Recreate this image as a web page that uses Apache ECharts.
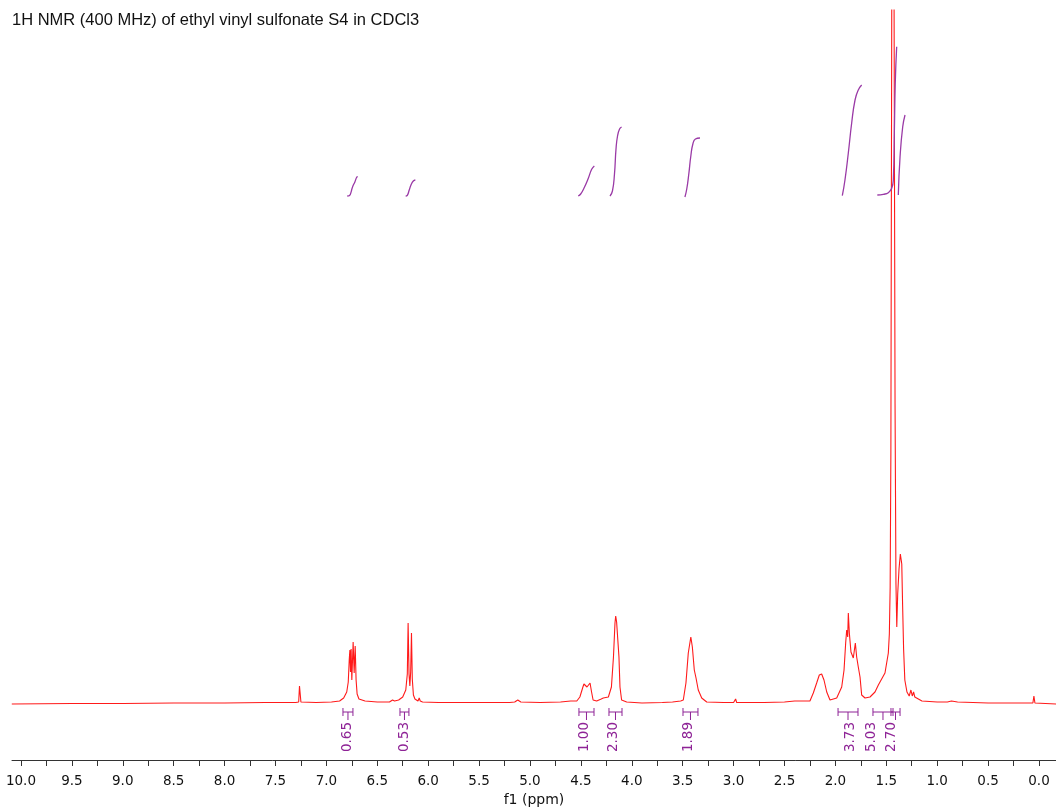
<!DOCTYPE html>
<html>
<head>
<meta charset="utf-8">
<title>1H NMR ethyl vinyl sulfonate</title>
<script src="https://cdn.jsdelivr.net/npm/echarts@6.0.0/dist/echarts.min.js"></script>
<style>
  html, body { margin: 0; padding: 0; background: #fff; }
  #chart { width: 1056px; height: 808px; }
</style>
</head>
<body>
<div id="chart"></div>
<script>
const titleText = '1H NMR (400 MHz) of ethyl vinyl sulfonate S4 in CDCl3'

// spectrum: [ppm, intensity]
const spectrum = [
  [10.09, 0], [9.5, 0.5], [9.0, 0.5], [8.5, 1], [8.0, 1], [7.6, 1.5], [7.3, 1.5],
  [7.272, 2], [7.264, 18], [7.258, 18], [7.25, 2],
  [7.1, 1.5], [6.95, 2], [6.87, 3], [6.83, 6], [6.8, 12], [6.785, 22], [6.775, 45],
  [6.769, 54], [6.763, 32], [6.757, 55], [6.75, 24], [6.737, 62], [6.727, 31],
  [6.717, 58], [6.708, 24], [6.698, 10], [6.68, 5], [6.62, 3], [6.5, 2],
  [6.38, 2], [6.35, 4], [6.33, 3], [6.29, 4], [6.25, 7], [6.22, 14], [6.205, 30],
  [6.197, 81], [6.188, 30], [6.18, 18], [6.172, 32], [6.164, 71], [6.156, 25],
  [6.145, 9], [6.13, 5], [6.1, 3], [6.088, 6], [6.078, 3], [6.066, 5], [6.055, 2],
  [5.9, 1.5], [5.5, 1.5], [5.2, 1.5], [5.15, 2], [5.12, 4], [5.09, 2], [4.9, 1.5],
  [4.7, 2], [4.6, 3],
  [4.54, 3], [4.51, 7], [4.48, 17], [4.47, 20], [4.455, 19], [4.44, 17], [4.41, 21],
  [4.395, 12], [4.38, 4], [4.345, 3], [4.3, 5], [4.28, 6], [4.23, 7], [4.2, 17],
  [4.18, 47], [4.165, 81], [4.158, 88], [4.149, 82], [4.14, 81], [4.126, 47],
  [4.116, 17], [4.1, 4], [4.05, 2], [3.9, 1], [3.7, 1.5], [3.6, 2], [3.52, 3],
  [3.494, 4], [3.468, 21], [3.445, 51], [3.42, 67], [3.405, 57], [3.386, 34],
  [3.369, 26], [3.347, 14], [3.313, 6], [3.264, 2], [3.1, 1.5], [3.0, 1.5],
  [2.98, 5], [2.97, 1.5], [2.7, 1.5], [2.5, 2], [2.4, 3], [2.3, 3],
  [2.25, 3], [2.217, 11], [2.184, 21], [2.158, 29], [2.135, 30], [2.112, 24],
  [2.085, 12], [2.053, 4], [1.987, 6], [1.938, 17], [1.915, 34], [1.899, 61],
  [1.889, 74], [1.879, 67], [1.873, 91], [1.863, 71], [1.857, 69], [1.847, 52],
  [1.834, 51], [1.824, 46], [1.804, 61], [1.791, 47], [1.775, 37], [1.758, 27],
  [1.742, 9], [1.709, 6], [1.66, 7], [1.611, 12], [1.578, 19], [1.562, 17],
  [1.513, 31], [1.48, 51], [1.47, 70], [1.462, 117], [1.455, 250], [1.446, 720],
  [1.424, 720], [1.414, 300], [1.405, 120], [1.397, 77], [1.388, 110], [1.375, 135],
  [1.362, 150], [1.356, 152], [1.348, 140], [1.34, 100], [1.33, 55], [1.318, 24],
  [1.297, 12], [1.275, 8], [1.258, 14], [1.245, 8], [1.232, 12], [1.22, 7],
  [1.15, 3], [1.0, 2], [0.9, 2], [0.86, 3], [0.8, 2], [0.5, 1], [0.1, 1],
  [0.06, 1], [0.05, 8], [0.04, 1], [-0.17, 0]
]

// integral curves [ppm, height]
const integralCurves = [
  [[6.795, 508], [6.775, 508.3], [6.742, 517.3], [6.719, 522.3], [6.702, 526.7], [6.692, 527.3]],
  [[6.221, 508], [6.205, 508.7], [6.186, 514], [6.169, 519], [6.146, 523], [6.126, 524]],
  [[4.526, 508], [4.502, 510], [4.47, 515.7], [4.427, 525.7], [4.394, 534.7], [4.368, 538]],
  [[4.214, 508], [4.19, 513], [4.17, 530], [4.155, 555], [4.14, 568], [4.12, 575], [4.1, 577]],
  [[3.478, 507], [3.46, 515], [3.44, 530], [3.42, 548], [3.4, 560], [3.375, 565], [3.33, 566]],
  [[1.932, 508.3], [1.906, 524], [1.873, 551], [1.84, 581], [1.807, 604], [1.775, 614], [1.742, 619]],
  [[1.588, 509], [1.529, 509.7], [1.48, 511.3], [1.447, 515.7], [1.431, 524], [1.421, 571], [1.412, 621], [1.398, 657.3]],
  [[1.382, 509], [1.365, 547], [1.339, 577], [1.316, 589]]
]

// integral regions: from ppm, to ppm, label ppm
const integralFrom = [6.837, 6.277, 4.519, 4.224, 3.497, 1.974, 1.631, 1.454]
const integralTo = [6.739, 6.189, 4.371, 4.096, 3.35, 1.778, 1.434, 1.365]
const integralLabelAt = [6.79, 6.23, 4.46, 4.18, 3.44, 1.85, 1.65, 1.45]
const integralValues = ['0.65', '0.53', '1.00', '2.30', '1.89', '3.73', '5.03', '2.70']

const labelTicks = [0, 0.5, 1, 1.5, 2, 2.5, 3, 3.5, 4, 4.5, 5, 5.5, 6, 6.5, 7, 7.5, 8, 8.5, 9, 9.5, 10]
const allTicks = [0, 0.25, 0.5, 0.75, 1, 1.25, 1.5, 1.75, 2, 2.25, 2.5, 2.75, 3, 3.25, 3.5, 3.75,
  4, 4.25, 4.5, 4.75, 5, 5.25, 5.5, 5.75, 6, 6.25, 6.5, 6.75, 7, 7.25, 7.5, 7.75,
  8, 8.25, 8.5, 8.75, 9, 9.25, 9.5, 9.75, 10]

const purple = '#8e2396'
const bracketLevel = -8

const chart = echarts.init(document.getElementById('chart'))

const integralSeries = integralCurves.map(function (pts) {
  return {
    type: 'line',
    data: pts,
    symbol: 'none',
    smooth: true,
    silent: true,
    lineStyle: { color: '#9a3aa6', width: 1.3 },
    z: 3
  }
})

const option = {
  animation: false,
  backgroundColor: '#fff',
  title: {
    text: titleText,
    left: 12,
    top: 12,
    padding: 0,
    textStyle: {
      fontFamily: 'Liberation Sans',
      fontSize: 16.5,
      fontWeight: 'normal',
      color: '#111'
    }
  },
  grid: {
    left: 12,
    right: 0,
    top: 10,
    bottom: 48,
    outerBoundsMode: 'none'
  },
  xAxis: {
    type: 'value',
    inverse: true,
    min: -0.167,
    max: 10.088,
    name: 'f1 (ppm)',
    nameLocation: 'middle',
    nameGap: 32,
    nameTextStyle: {
      fontFamily: 'DejaVu Sans',
      fontSize: 14,
      color: '#111'
    },
    axisLine: { onZero: false, lineStyle: { color: '#333', width: 1 } },
    axisTick: {
      customValues: allTicks,
      length: 6,
      lineStyle: { color: '#333' }
    },
    axisLabel: {
      customValues: labelTicks,
      margin: 14,
      fontFamily: 'DejaVu Sans',
      fontSize: 13.5,
      color: '#111',
      formatter: function (v) { return v.toFixed(1) }
    },
    splitLine: { show: false }
  },
  yAxis: {
    type: 'value',
    show: false,
    min: -56,
    max: 694
  },
  series: [
    {
      type: 'line',
      data: spectrum,
      symbol: 'none',
      silent: true,
      clip: true,
      lineStyle: { color: '#ff1a1a', width: 1.1 },
      z: 2
    },
    {
      type: 'custom',
      silent: true,
      data: integralFrom.map(function (f, i) {
        return [f, integralTo[i], integralLabelAt[i]]
      }),
      renderItem: function (params, api) {
        const a = api.coord([api.value(0), bracketLevel])
        const b = api.coord([api.value(1), bracketLevel])
        const c = api.coord([api.value(2), bracketLevel])
        const mid = (a[0] + b[0]) / 2
        const y = a[1]
        const ls = { stroke: purple, lineWidth: 1 }
        return {
          type: 'group',
          children: [
            { type: 'line', shape: { x1: a[0], y1: y, x2: b[0], y2: y }, style: ls },
            { type: 'line', shape: { x1: a[0], y1: y - 4, x2: a[0], y2: y + 4 }, style: ls },
            { type: 'line', shape: { x1: b[0], y1: y - 4, x2: b[0], y2: y + 4 }, style: ls },
            { type: 'line', shape: { x1: mid, y1: y, x2: mid, y2: y + 8 }, style: ls },
            {
              type: 'text',
              x: c[0],
              y: y + 10,
              rotation: Math.PI / 2,
              style: {
                text: integralValues[params.dataIndex],
                fill: purple,
                fontFamily: 'DejaVu Sans',
                fontSize: 13.5,
                align: 'right',
                verticalAlign: 'middle'
              }
            }
          ]
        }
      },
      z: 4
    }
  ].concat(integralSeries)
}

chart.setOption(option)
</script>
</body>
</html>
